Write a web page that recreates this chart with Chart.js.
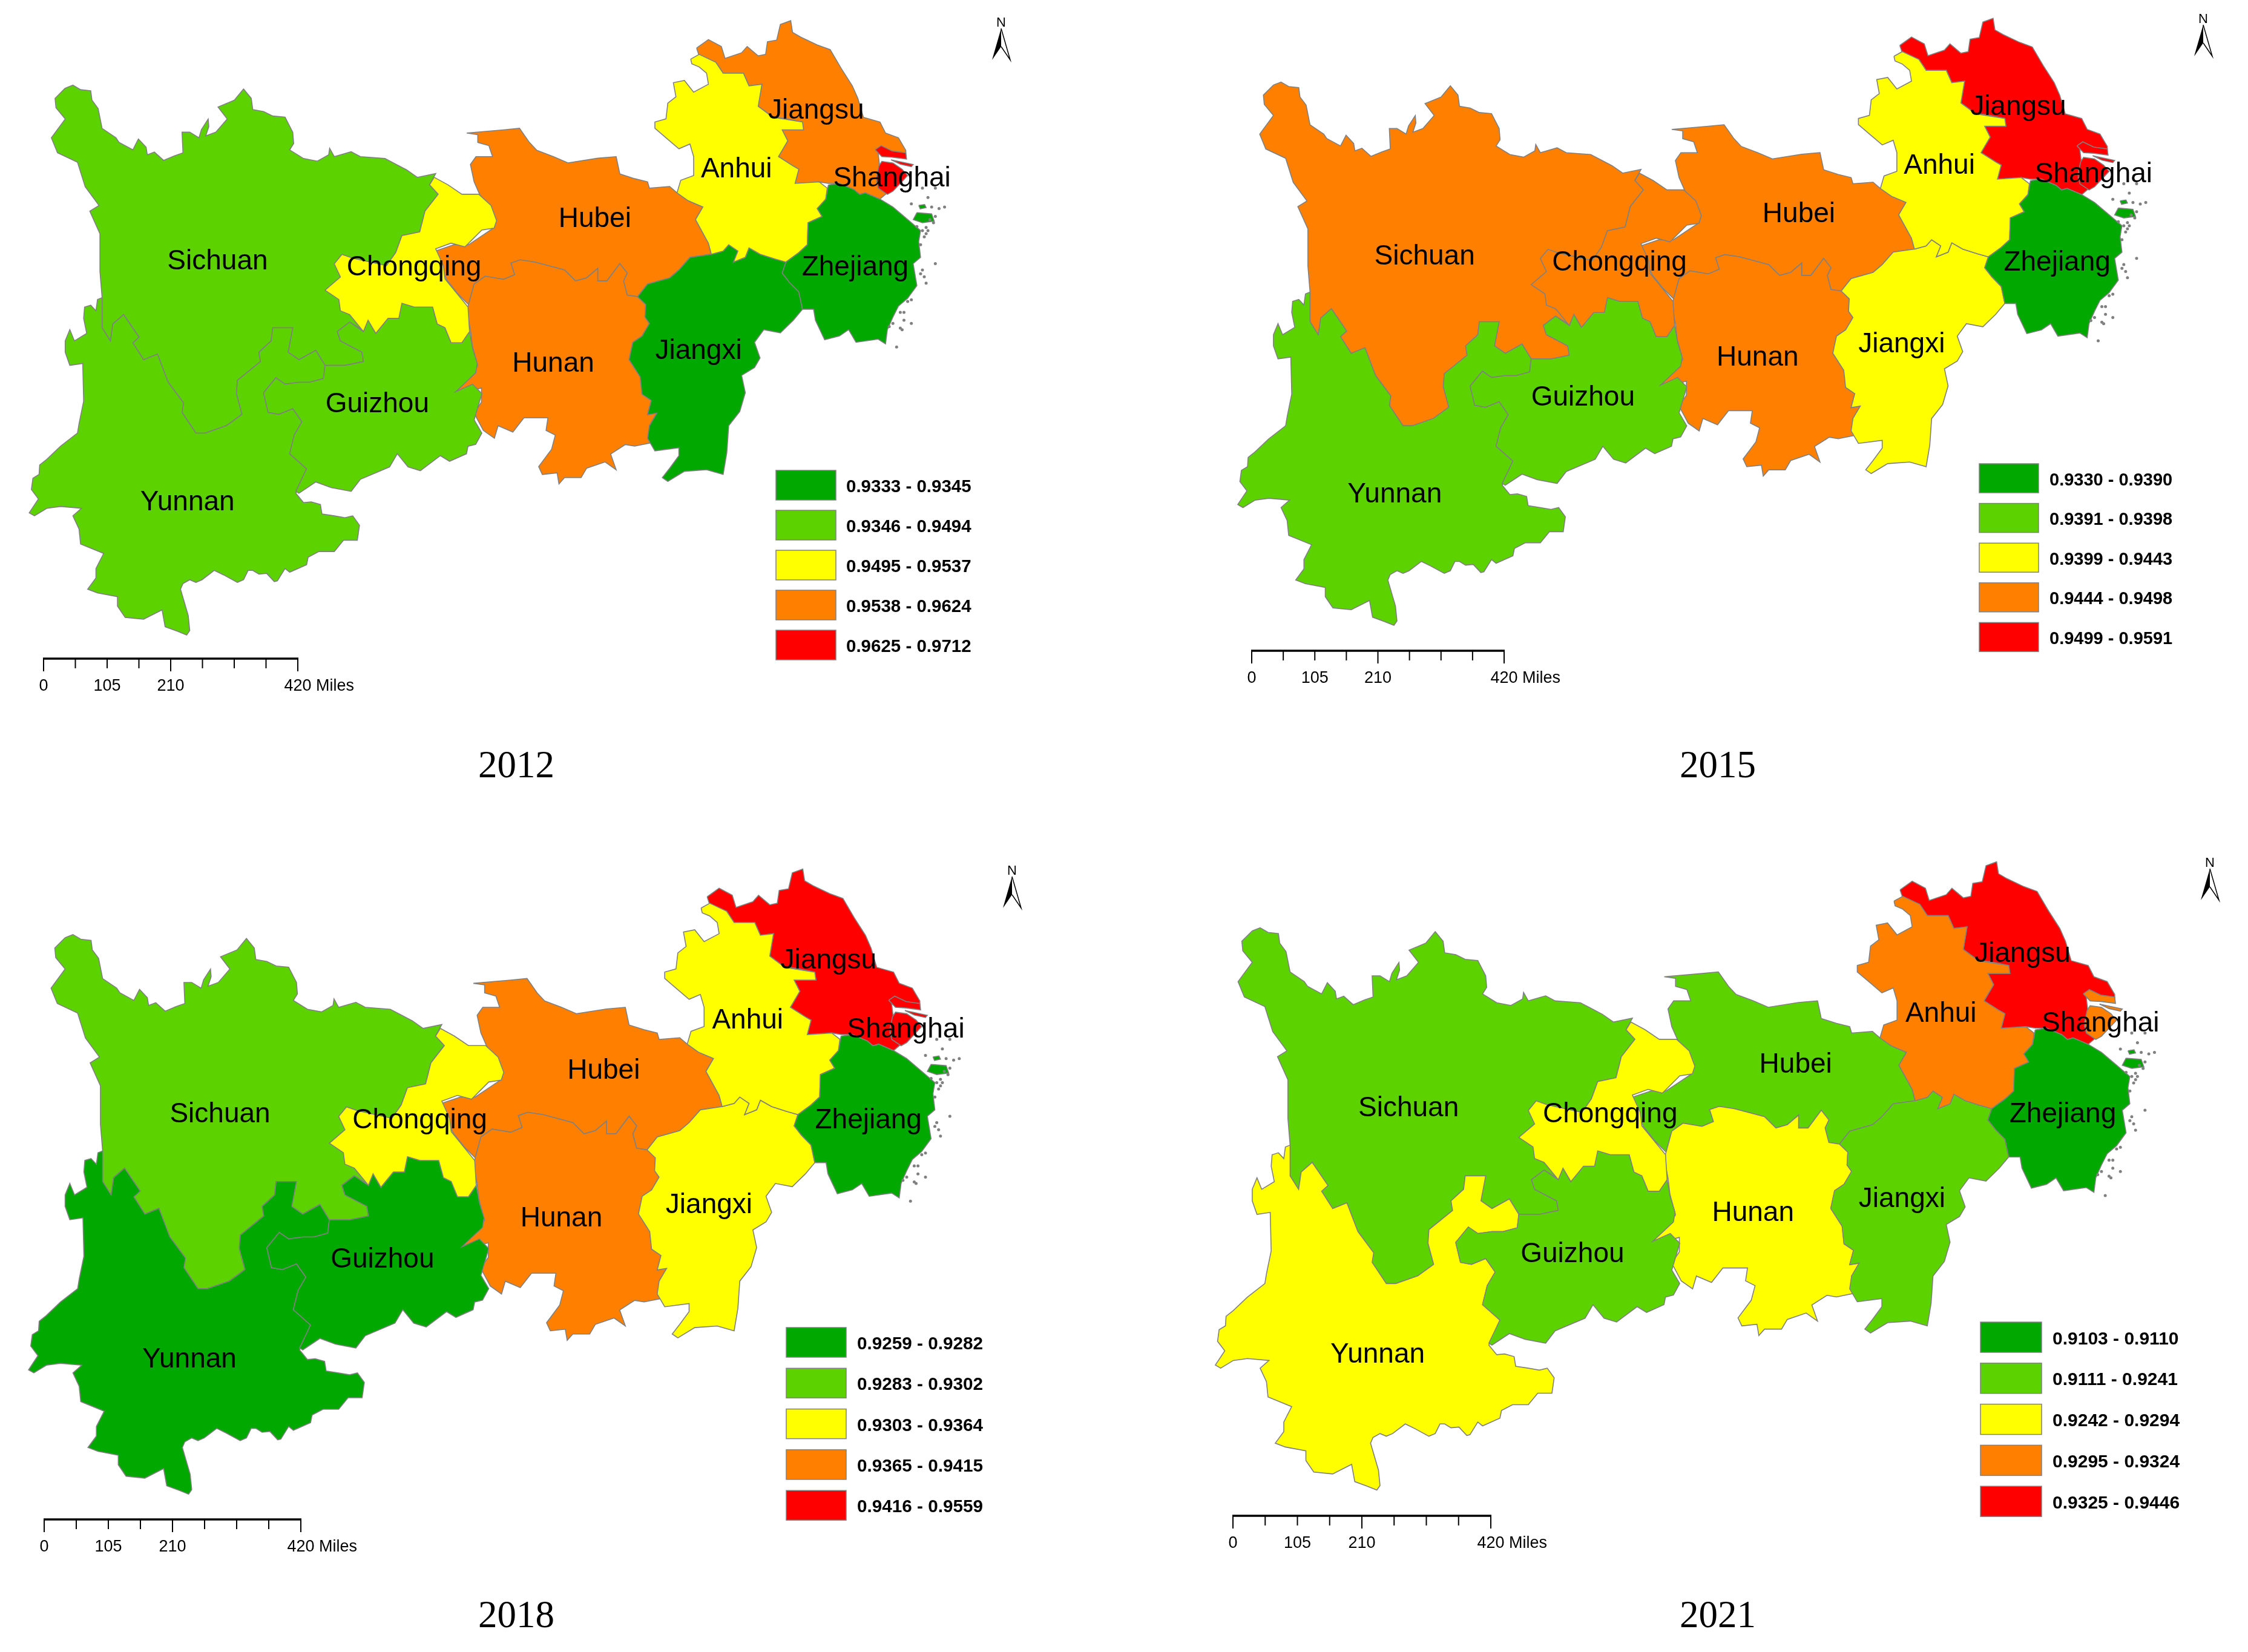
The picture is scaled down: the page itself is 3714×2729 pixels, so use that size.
<!DOCTYPE html>
<html>
<head>
<meta charset="utf-8">
<title>Provincial maps 2012-2021</title>
<script src="https://cdn.jsdelivr.net/npm/chart.js@4"></script>
<style>
  html, body { margin: 0; background: #fff; }
  #page { position: relative; width: 3714px; height: 2729px; background: #fff; overflow: hidden; }
  canvas { position: absolute; }
</style>
</head>
<body>
<div id="page"></div>
<script>
// outlines, flat x,y lists
// west group and east group were traced from two separate crops, see toMapWest / toMapEast
const sichuan = [165,68, 190,60, 215,72, 248,75, 252,100, 272,122, 285,175, 330,200, 340,212, 385,232, 403,203, 428,225, 432,245, 455,238, 485,260, 520,248, 548,240, 545,185, 570,185, 600,200, 608,178, 630,150, 632,170, 622,195, 655,185, 692,150, 662,118, 715,100, 745,70, 770,95, 775,125, 810,130, 840,142, 880,145, 905,185, 908,215, 895,232, 940,255, 985,262, 1022,245, 1025,228, 1040,250, 1095,237, 1125,250, 1205,255, 1240,270, 1275,285, 1310,305, 1370,295, 1350,325, 1378,350, 1335,395, 1318,450, 1260,460, 1240,505, 1210,540, 1100,600, 1090,670, 1140,715, 1090,690, 1050,715, 1060,740, 1130,770, 1135,795, 1075,805, 1010,805, 980,765, 925,790, 890,770, 905,705, 840,705, 835,740, 795,770, 800,795, 725,845, 722,880, 740,935, 690,965, 620,985, 590,985, 545,930, 550,905, 500,850, 465,775, 420,790, 385,745, 405,730, 355,670, 320,695, 312,740, 285,705, 285,625, 278,555, 278,455, 245,395, 275,380, 230,330, 205,265, 140,240, 120,200, 165,150, 135,120, 132,95];
const yunnan = [285,625, 270,630, 265,660, 248,645, 228,650, 225,680, 235,720, 195,740, 180,710, 165,740, 165,770, 180,805, 222,800, 225,900, 210,960, 205,985, 150,1020, 105,1055, 82,1070, 80,1095, 60,1105, 55,1135, 78,1160, 48,1197, 65,1205, 105,1185, 150,1180, 218,1185, 190,1205, 210,1240, 215,1280, 290,1305, 265,1345, 265,1370, 238,1400, 270,1410, 335,1420, 335,1445, 360,1475, 420,1480, 480,1455, 490,1500, 530,1512, 560,1522, 570,1510, 565,1470, 540,1400, 548,1385, 570,1375, 590,1382, 610,1375, 650,1350, 680,1362, 725,1382, 745,1375, 760,1350, 775,1350, 795,1360, 820,1358, 845,1380, 855,1378, 880,1345, 895,1355, 950,1335, 955,1315, 990,1300, 1040,1300, 1070,1270, 1115,1270, 1122,1230, 1100,1205, 1075,1210, 1040,1205, 1000,1200, 995,1175, 965,1168, 940,1170, 915,1145, 950,1080, 895,1040, 910,990, 935,955, 905,920, 860,935, 825,930, 810,878, 850,838, 880,855, 925,850, 960,850, 1005,840, 1010,805, 980,765, 925,790, 890,770, 905,705, 840,705, 835,740, 795,770, 800,795, 725,845, 722,880, 740,935, 690,965, 620,985, 590,985, 545,930, 550,905, 500,850, 465,775, 420,790, 385,745, 405,730, 355,670, 320,695, 312,740, 285,705];
const guizhou = [810,878, 850,838, 880,855, 925,850, 960,850, 1005,840, 1010,805, 1075,805, 1135,795, 1130,770, 1060,740, 1050,715, 1090,690, 1135,715, 1150,685, 1175,720, 1215,680, 1250,680, 1260,640, 1300,650, 1360,650, 1375,695, 1400,705, 1420,745, 1455,745, 1480,715, 1490,760, 1505,800, 1500,825, 1435,875, 1490,855, 1520,880, 1495,950, 1520,985, 1500,1015, 1475,1020, 1470,1040, 1415,1060, 1385,1045, 1320,1085, 1280,1075, 1245,1040, 1220,1075, 1125,1108, 1095,1140, 1030,1130, 980,1115, 925,1145, 915,1140, 950,1080, 895,1040, 910,990, 935,955, 905,920, 860,935, 825,930];
const chongqing = [1365,305, 1410,325, 1455,350, 1510,350, 1550,380, 1568,420, 1560,440, 1520,445, 1465,490, 1420,480, 1370,495, 1395,540, 1400,575, 1440,615, 1475,650, 1480,715, 1455,745, 1420,745, 1400,705, 1375,695, 1360,650, 1300,650, 1260,640, 1250,680, 1215,680, 1175,720, 1150,685, 1135,715, 1090,670, 1060,660, 1055,630, 1010,605, 1060,570, 1040,535, 1065,510, 1100,520, 1210,540, 1240,505, 1260,460, 1318,450, 1335,395, 1378,350, 1350,325];

const hubei = [115,415, 215,405, 258,400, 285,445, 305,470, 350,490, 390,510, 470,495, 520,490, 530,545, 570,560, 605,570, 610,590, 665,585, 685,605, 715,630, 755,650, 735,690, 770,765, 778,800, 720,810, 690,850, 665,875, 605,895, 578,935, 550,930, 540,885, 550,860, 530,830, 495,885, 470,885, 470,845, 440,875, 410,885, 380,850, 300,825, 260,818, 235,828, 245,865, 215,880, 165,870, 135,895, 120,960, 90,925, 60,880, 30,790, 80,770, 120,770, 190,715, 195,690, 150,610, 135,570, 125,515, 140,490, 185,490, 175,455, 145,445, 145,420];
const hunan = [120,960, 135,895, 165,870, 215,880, 245,865, 235,828, 260,818, 300,825, 380,850, 410,885, 440,875, 470,845, 470,885, 495,885, 530,830, 550,860, 540,885, 550,930, 578,935, 600,960, 598,1000, 610,1020, 590,1060, 565,1080, 555,1135, 585,1190, 590,1245, 615,1265, 605,1310, 630,1305, 610,1345, 612,1400, 570,1410, 545,1405, 505,1435, 520,1485, 490,1460, 440,1480, 425,1510, 380,1510, 365,1530, 360,1495, 320,1500, 310,1475, 345,1420, 355,1375, 330,1360, 335,1320, 270,1320, 240,1365, 200,1345, 190,1385, 160,1360, 135,1305, 155,1270, 155,1225, 105,1240, 85,1230, 125,1190, 145,1155, 130,1090, 125,1040, 115,980];
const jiangxi = [578,935, 605,895, 665,875, 690,850, 720,810, 778,800, 810,790, 825,770, 850,790, 838,825, 870,810, 880,780, 910,800, 950,815, 980,825, 970,860, 990,890, 1015,920, 1025,975, 1000,1010, 965,1050, 920,1040, 895,1080, 910,1130, 895,1160, 860,1185, 870,1240, 855,1300, 825,1345, 820,1430, 810,1500, 765,1485, 705,1490, 660,1522, 645,1510, 665,1480, 690,1440, 690,1415, 625,1425, 605,1385, 610,1345, 630,1305, 605,1310, 615,1265, 590,1245, 585,1190, 555,1135, 565,1080, 590,1060, 610,1020, 598,1000, 600,960];
const jiangsu = [738,145, 770,118, 805,140, 815,178, 860,160, 875,140, 905,170, 925,165, 930,125, 955,120, 965,70, 993,58, 998,95, 1020,110, 1065,135, 1100,150, 1130,210, 1160,265, 1175,305, 1190,365, 1235,380, 1250,415, 1285,430, 1305,470, 1305,495, 1230,480, 1235,530, 1225,570, 1255,605, 1235,625, 1195,605, 1180,610, 1165,595, 1125,575, 1095,575, 1070,570, 1030,580, 1005,575, 1015,530, 1000,520, 960,490, 985,440, 970,405, 1028,405, 1025,380, 975,368, 945,365, 905,330, 915,260, 880,265, 865,225, 810,225, 790,190, 745,170];
const anhui = [722,180, 745,165, 790,190, 810,225, 865,225, 880,265, 915,260, 905,330, 945,365, 1025,380, 1028,405, 970,405, 985,440, 960,490, 1000,520, 1015,530, 1005,575, 1070,570, 1092,590, 1088,625, 1065,655, 1078,680, 1040,700, 1038,770, 1015,795, 980,825, 950,815, 910,800, 880,780, 870,810, 838,825, 850,790, 825,770, 810,790, 778,800, 770,765, 735,690, 755,650, 715,630, 685,605, 695,565, 730,550, 730,490, 720,450, 690,465, 655,430, 625,400, 625,380, 655,370, 660,320, 682,300, 675,255, 705,248, 730,285, 770,260, 765,225, 745,205, 725,195];
const zhejiang = [1095,580, 1125,575, 1165,595, 1180,610, 1195,605, 1235,625, 1270,650, 1310,690, 1345,725, 1340,760, 1345,810, 1325,830, 1335,900, 1310,940, 1285,965, 1270,1000, 1255,1040, 1250,1085, 1230,1070, 1170,1080, 1150,1040, 1125,1060, 1085,1072, 1060,1010, 1055,975, 1025,975, 1015,920, 990,890, 970,860, 980,825, 1015,795, 1038,770, 1040,700, 1078,680, 1065,655, 1088,625];
const zhoushan = [1335,668, 1375,672, 1382,695, 1350,700, 1325,690];
const zhoushanNorth = [1340,645, 1356,642, 1360,652, 1344,656];
const shanghaiMain = [1232,520, 1240,505, 1270,510, 1295,530, 1310,550, 1290,575, 1270,600, 1255,610, 1230,590, 1225,560];
const shanghaiIsland = [1222,468, 1238,455, 1268,472, 1305,478, 1307,498, 1268,492, 1240,490];
const shanghaiSliver = [1265,500, 1325,515, 1320,522, 1290,514];
const islandSpecks = [1350,590, 1385,590, 1365,620, 1320,640, 1375,650, 1395,655, 1410,650, 1385,680, 1380,700, 1370,690, 1365,725, 1350,725, 1335,712, 1360,715, 1345,770, 1355,745, 1360,735, 1350,850, 1345,862, 1355,872, 1360,892, 1385,830, 1320,945, 1310,950, 1290,985, 1300,985, 1300,1010, 1295,1040, 1290,1035, 1320,1020, 1280,1095, 1270,1020, 1260,1030];

// order here is paint order
const provinces = ['Sichuan', 'Hubei', 'Hunan', 'Jiangxi', 'Jiangsu', 'Yunnan', 'Guizhou', 'Chongqing', 'Anhui', 'Zhejiang', 'Shanghai'];

// class index (0..4) of each province, same order as provinces
const classes2012 = [1, 3, 3, 0, 3, 1, 1, 2, 2, 0, 4];
const classes2015 = [3, 3, 3, 2, 4, 1, 1, 3, 2, 0, 4];
const classes2018 = [1, 3, 3, 2, 4, 0, 0, 2, 2, 0, 4];
const classes2021 = [1, 1, 2, 1, 4, 2, 1, 2, 3, 0, 3];

const legend2012 = ['0.9333 - 0.9345', '0.9346 - 0.9494', '0.9495 - 0.9537', '0.9538 - 0.9624', '0.9625 - 0.9712'];
const legend2015 = ['0.9330 - 0.9390', '0.9391 - 0.9398', '0.9399 - 0.9443', '0.9444 - 0.9498', '0.9499 - 0.9591'];
const legend2018 = ['0.9259 - 0.9282', '0.9283 - 0.9302', '0.9303 - 0.9364', '0.9365 - 0.9415', '0.9416 - 0.9559'];
const legend2021 = ['0.9103 - 0.9110', '0.9111 - 0.9241', '0.9242 - 0.9294', '0.9295 - 0.9324', '0.9325 - 0.9446'];

const scaleTicks = ['0', '105', '210', '420'];

const classColors = ['#00A800', '#5CD200', '#FFFF00', '#FF8000', '#FF0000'];
const borderColor = '#808080';

// label anchors in map units (centre of the capitals)
const labelAnchors = {
  Sichuan: [357, 428], Chongqing: [683, 438], Guizhou: [622, 665], Yunnan: [307, 828],
  Jiangsu: [1350, 177], Anhui: [1218, 275], Shanghai: [1476, 290], Hubei: [983, 357],
  Zhejiang: [1415, 438], Jiangxi: [1155, 576], Hunan: [914, 598]
};

// panel layout: canvas rect, map placement, then the furniture in page pixels
const panels = [
  { year: '2012', classes: classes2012, legend: legend2012, rect: [0, 0, 1857, 1364], sx: 1, sy: 1, ox: 0, oy: 0,
    legendBox: [1282, 777, 99, 49, 66], legendText: 1398, legendFont: 29.5, bar: [72, 492, 1088], north: [1654, 47], yearAt: [853, 1267] },
  { year: '2015', classes: classes2015, legend: legend2015, rect: [1857, 0, 1857, 1364], sx: 0.992, sy: 0.988, ox: 1997.6, oy: -3.5,
    legendBox: [3270, 766, 98, 48, 65.6], legendText: 3386, legendFont: 29, bar: [2068, 2485, 1075], north: [3640, 41], yearAt: [2838, 1267] },
  { year: '2018', classes: classes2018, legend: legend2018, rect: [0, 1364, 1857, 1365], sx: 1.0168, sy: 1.0177, ox: -1.9, oy: 1401,
    legendBox: [1299, 2193, 99, 49, 67.3], legendText: 1416, legendFont: 29.7, bar: [73, 497, 2510], north: [1672, 1448], yearAt: [853, 2671] },
  { year: '2021', classes: classes2021, legend: legend2021, rect: [1857, 1364, 1857, 1365], sx: 1.026, sy: 1.0226, ox: 1958.9, oy: 1389,
    legendBox: [3272, 2184, 101, 50, 67.8], legendText: 3391, legendFont: 30, bar: [2037, 2463, 2504], north: [3651, 1435], yearAt: [2838, 2671] }
];

function pairs(flat, fx, fy) {
  const pts = [];
  for (let i = 0; i < flat.length; i += 2) pts.push({ x: fx(flat[i]), y: fy(flat[i + 1]) });
  return pts;
}
const toMapWest = flat => pairs(flat, a => 20 + a / 1.96, b => 100 + b / 1.6);
const toMapEast = flat => pairs(flat, a => 700 + a / 1.6333, b => b / 1.9122);
const closed = pts => pts.concat([pts[0]]);

const outlines = {
  Sichuan: [toMapWest(sichuan)], Yunnan: [toMapWest(yunnan)], Guizhou: [toMapWest(guizhou)], Chongqing: [toMapWest(chongqing)],
  Hubei: [toMapEast(hubei)], Hunan: [toMapEast(hunan)], Jiangxi: [toMapEast(jiangxi)], Jiangsu: [toMapEast(jiangsu)],
  Anhui: [toMapEast(anhui)], Zhejiang: [toMapEast(zhejiang), toMapEast(zhoushan), toMapEast(zhoushanNorth)],
  Shanghai: [toMapEast(shanghaiMain), toMapEast(shanghaiIsland), toMapEast(shanghaiSliver)]
};

function buildDatasets(panel) {
  const sets = [];
  provinces.forEach((name, p) => {
    outlines[name].forEach(ring => {
      sets.push({
        label: name,
        data: closed(ring),
        showLine: true,
        fill: 'shape',
        tension: 0,
        backgroundColor: classColors[panel.classes[p]],
        borderColor: borderColor,
        borderWidth: 1.6,
        pointRadius: 0
      });
    });
  });
  sets.push({
    label: 'islands',
    data: toMapEast(islandSpecks),
    showLine: false,
    pointRadius: 2.5,
    pointBackgroundColor: borderColor,
    pointBorderWidth: 0
  });
  // chart.js paints high order first, so count down to keep list order
  sets.forEach((s, i) => { s.order = -i; });
  return sets;
}

// province names, legend, scale bar, north arrow and year caption
const mapFurniture = {
  id: 'mapFurniture',
  afterDatasetsDraw(chart, args, opts) {
    const panel = opts.panel;
    const ctx = chart.ctx;
    const px = x => x - panel.rect[0];
    const py = y => y - panel.rect[1];
    ctx.save();
    ctx.fillStyle = '#000';

    // province names
    ctx.font = '46px "Liberation Sans"';
    ctx.textAlign = 'center';
    ctx.textBaseline = 'alphabetic';
    provinces.forEach(name => {
      const a = labelAnchors[name];
      ctx.fillText(name, chart.scales.x.getPixelForValue(a[0]), chart.scales.y.getPixelForValue(a[1]) + 16);
    });

    // legend
    const [lx, ly, lw, lh, pitch] = panel.legendBox;
    panel.legend.forEach((text, i) => {
      const top = ly + i * pitch;
      ctx.fillStyle = classColors[i];
      ctx.fillRect(px(lx), py(top), lw, lh);
      ctx.strokeStyle = borderColor;
      ctx.lineWidth = 1.5;
      ctx.strokeRect(px(lx), py(top), lw, lh);
      ctx.fillStyle = '#000';
      ctx.font = 'bold ' + panel.legendFont + 'px "Liberation Sans"';
      ctx.textAlign = 'left';
      ctx.fillText(text, px(panel.legendText), py(top + lh / 2 + 11.5));
    });

    // scale bar, 420 miles split in 8
    const [b0, b1, by] = panel.bar;
    ctx.strokeStyle = '#000';
    ctx.lineWidth = 3.5;
    ctx.beginPath();
    ctx.moveTo(px(b0) - 1, py(by));
    ctx.lineTo(px(b1) + 1, py(by));
    ctx.stroke();
    ctx.lineWidth = 2;
    for (let i = 0; i <= 8; i++) {
      const tx = px(b0 + (b1 - b0) * i / 8);
      ctx.beginPath();
      ctx.moveTo(tx, py(by));
      ctx.lineTo(tx, py(by + (i % 4 === 0 ? 21 : 16)));
      ctx.stroke();
    }
    ctx.font = '27px "Liberation Sans"';
    const fractions = [0, 0.25, 0.5, 1];
    scaleTicks.forEach((t, i) => {
      const tx = px(b0 + (b1 - b0) * fractions[i]);
      ctx.textAlign = 'center';
      ctx.fillText(t, tx, py(by + 53));
      if (t === '420') {
        ctx.textAlign = 'left';
        ctx.fillText(' Miles', tx + ctx.measureText(t).width / 2, py(by + 53));
      }
    });

    // north arrow
    const nx = px(panel.north[0]);
    const ny = py(panel.north[1]);
    ctx.font = '22px "Liberation Sans"';
    ctx.textAlign = 'center';
    ctx.fillText('N', nx, ny - 3);
    ctx.fillStyle = '#000';
    ctx.beginPath();
    ctx.moveTo(nx, ny);
    ctx.lineTo(nx - 15, ny + 52);
    ctx.lineTo(nx, ny + 30);
    ctx.closePath();
    ctx.fill();
    ctx.lineWidth = 1.5;
    ctx.beginPath();
    ctx.moveTo(nx, ny);
    ctx.lineTo(nx + 15, ny + 52);
    ctx.lineTo(nx, ny + 30);
    ctx.stroke();

    // year caption
    ctx.font = '63px "Liberation Serif"';
    ctx.textBaseline = 'middle';
    ctx.fillText(panel.year, px(panel.yearAt[0]), py(panel.yearAt[1]));
    ctx.restore();
  }
};

const page = document.getElementById('page');
panels.forEach(panel => {
  const [left, top, w, h] = panel.rect;
  const canvas = document.createElement('canvas');
  canvas.width = w;
  canvas.height = h;
  canvas.style.left = left + 'px';
  canvas.style.top = top + 'px';
  canvas.style.width = w + 'px';
  canvas.style.height = h + 'px';
  page.appendChild(canvas);

  new Chart(canvas.getContext('2d'), {
    type: 'scatter',
    data: { datasets: buildDatasets(panel) },
    options: {
      responsive: false,
      animation: false,
      devicePixelRatio: 1,
      layout: { padding: 0 },
      plugins: {
        legend: { display: false },
        tooltip: { enabled: false },
        mapFurniture: { panel: panel }
      },
      scales: {
        // axes hidden, their ranges place the map inside the panel
        x: { type: 'linear', display: false, min: (left - panel.ox) / panel.sx, max: (left + w - panel.ox) / panel.sx },
        y: { type: 'linear', display: false, reverse: true, min: (top - panel.oy) / panel.sy, max: (top + h - panel.oy) / panel.sy }
      }
    },
    plugins: [mapFurniture]
  });
});
</script>
</body>
</html>
